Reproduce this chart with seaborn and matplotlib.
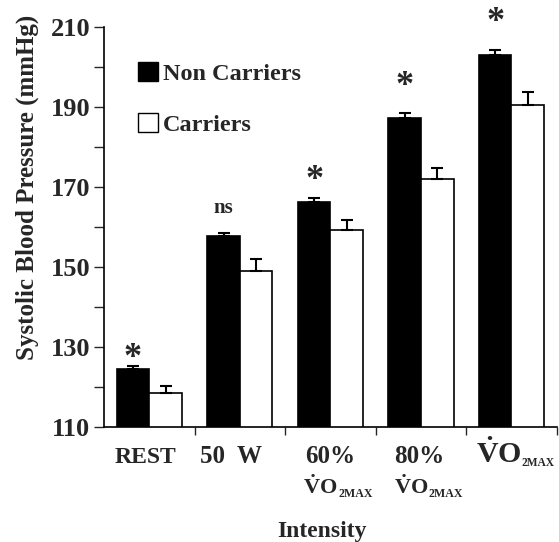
import matplotlib
matplotlib.use("Agg")
import matplotlib.pyplot as plt
import pandas as pd
import seaborn as sns
from matplotlib.patches import Patch

# values
intensity = ["REST", "50 W", "60% VO2max", "80% VO2max", "VO2max"]
first_line = ["REST", "50  W", "60%", "80%", None]
groups = ["Non Carriers", "Carriers"]
non_carriers = [124.5, 157.8, 166.2, 187.2, 203.0]
non_carriers_err = [0.7, 0.8, 1.0, 1.3, 1.3]
carriers = [118.5, 149.1, 159.2, 172.0, 190.4]
carriers_err = [1.8, 2.9, 2.5, 2.7, 3.3]
# annotation marks above the non-carrier bars
marks = ["*", "ns", "*", "*", "*"]
mark_y = [127.2, 164.8, 171.7, 195.2, 211.1]

sns.set_style("white")
plt.rcParams["font.family"] = ["Liberation Serif", "DejaVu Serif"]
plt.rcParams["font.weight"] = "bold"
plt.rcParams["mathtext.fontset"] = "custom"
plt.rcParams["mathtext.rm"] = "Liberation Serif:bold"
plt.rcParams["mathtext.it"] = "Liberation Serif:bold"
plt.rcParams["mathtext.bf"] = "Liberation Serif:bold"

df = pd.DataFrame({
    "Intensity": intensity * 2,
    "Group": [groups[0]] * 5 + [groups[1]] * 5,
    "SBP": non_carriers + carriers,
})

fig = plt.figure(figsize=(5.59, 5.42), dpi=100)
ax = fig.add_axes([0.186, 0.212, 0.810, 0.738])

sns.barplot(data=df, x="Intensity", y="SBP", hue="Group", order=intensity,
            hue_order=groups, palette=["black", "white"], edgecolor="black",
            linewidth=1.2, width=0.72, errorbar=None, legend=False, ax=ax)

# one-sided error bars
for cont, err in zip(ax.containers, [non_carriers_err, carriers_err]):
    xs = [b.get_x() + b.get_width() / 2 for b in cont]
    ys = [b.get_height() for b in cont]
    ax.errorbar(xs, ys, yerr=[[0] * len(err), err], fmt="none", ecolor="black",
                elinewidth=1.5, capsize=4, capthick=1.5)

xs_black = [b.get_x() + b.get_width() / 2 for b in ax.containers[0]]
for x, m, y in zip(xs_black, marks, mark_y):
    if m == "*":
        ax.text(x, y, m, ha="center", va="center", fontsize=26, fontweight="bold",
                clip_on=False)
    else:
        ax.text(x, y, m, ha="center", va="center", fontsize=15, fontweight="bold")

ax.set_ylim(110, 210)
ax.set_xlim(-0.5, 4.5)
ax.set_yticks(range(110, 211, 10))
ax.set_yticklabels([str(v) if (v - 110) % 20 == 0 else "" for v in range(110, 211, 10)],
                   fontsize=19, fontweight="bold")
ax.set_xticks([0.5, 1.5, 2.5, 3.5, 4.5])
ax.set_xticklabels([])
ax.tick_params(axis="x", which="major", direction="out", length=6, width=1, bottom=True)
ax.tick_params(axis="y", direction="out", length=7, width=1, left=True, pad=3)
ax.set_xlabel("")
ax.set_ylabel("")

# category labels drawn as text (two sizes, as in the reference)
first_dx = [-3, -6, 0, -1, 0]
for i, lab in enumerate(first_line):
    if lab is not None:
        ax.annotate(lab, xy=(i, 110), xytext=(first_dx[i], -26), textcoords="offset points",
                    ha="center", va="baseline", fontsize=18 if i else 17,
                    fontweight="bold", annotation_clip=False)
for i in [2, 3]:
    ax.annotate(r"$\dot{V}O$", xy=(i, 110), xytext=(5.3, -48.5), textcoords="offset points",
                ha="right", va="baseline", fontsize=16, annotation_clip=False)
    ax.annotate("2MAX", xy=(i, 110), xytext=(5.6, -50.3), textcoords="offset points",
                ha="left", va="baseline", fontsize=8.6, fontweight="bold", annotation_clip=False)
ax.annotate(r"$\dot{V}O$", xy=(4, 110), xytext=(7.0, -26), textcoords="offset points",
            ha="right", va="baseline", fontsize=21.5, annotation_clip=False)
ax.annotate("2MAX", xy=(4, 110), xytext=(7.3, -28.3), textcoords="offset points",
            ha="left", va="baseline", fontsize=8.3, fontweight="bold", annotation_clip=False)

sns.despine(ax=ax)
for s in ["left", "bottom"]:
    ax.spines[s].set_linewidth(1.2)
    ax.spines[s].set_color("black")

fig.text(27 / 559, 1 - 187 / 542, "Systolic Blood Pressure (mmHg)", rotation=90,
         ha="center", va="center", fontsize=18, fontweight="bold")
fig.text(322 / 559, 1 - 537 / 542, "Intensity", ha="center", va="baseline",
         fontsize=17, fontweight="bold")

handles = [Patch(facecolor="black", edgecolor="black"),
           Patch(facecolor="white", edgecolor="black")]
ax.legend(handles, groups, loc="upper left", bbox_to_anchor=(0.053, 0.937), frameon=False,
          prop={"size": 17.5, "weight": "bold"}, handlelength=0.85, handleheight=0.85,
          handletextpad=0.2, labelspacing=1.15, borderaxespad=0)

fig.savefig("out.png", dpi=100)
